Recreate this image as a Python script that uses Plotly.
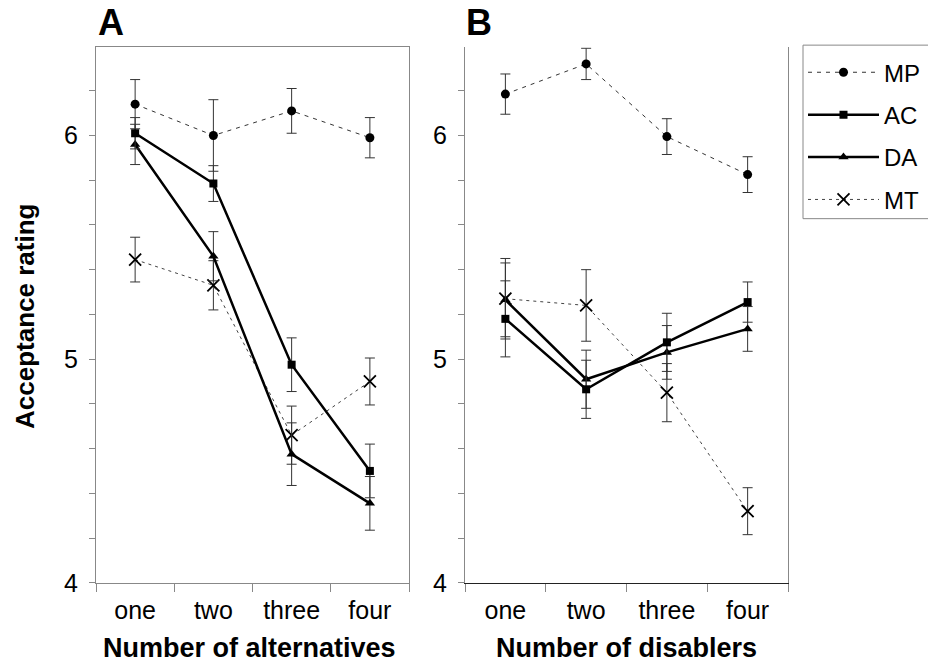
import plotly.graph_objects as go

categories = ["one", "two", "three", "four"]
series_names = ["MP", "AC", "DA", "MT"]

# Panel A: Number of alternatives
a_mp = [6.14, 6.00, 6.11, 5.99]
a_mp_err = [0.11, 0.16, 0.10, 0.09]
a_ac = [6.01, 5.785, 4.975, 4.50]
a_ac_err = [0.07, 0.08, 0.12, 0.12]
a_da = [5.96, 5.46, 4.575, 4.355]
a_da_err = [0.09, 0.11, 0.14, 0.12]
a_mt = [5.445, 5.33, 4.66, 4.90]
a_mt_err = [0.10, 0.11, 0.13, 0.105]

# Panel B: Number of disablers
b_mp = [6.185, 6.32, 5.995, 5.825]
b_mp_err = [0.09, 0.07, 0.08, 0.08]
b_ac = [5.18, 4.865, 5.075, 5.255]
b_ac_err = [0.17, 0.13, 0.13, 0.09]
b_da = [5.265, 4.91, 5.03, 5.135]
b_da_err = [0.165, 0.13, 0.12, 0.10]
b_mt = [5.27, 5.24, 4.85, 4.32]
b_mt_err = [0.18, 0.16, 0.13, 0.105]

y_major = [4, 5, 6]

REF_W, REF_H = 928, 663
W, H = 928, 679
FONT = "Liberation Sans, Arial, sans-serif"

styles = {
    "MP": dict(line=dict(color="#333333", width=1, dash="4px,5px"),
               marker=dict(symbol="circle", size=9, color="black")),
    "AC": dict(line=dict(color="black", width=2.5),
               marker=dict(symbol="square", size=8, color="black")),
    "DA": dict(line=dict(color="black", width=2.5),
               marker=dict(symbol="triangle-up", size=9, color="black")),
    "MT": dict(line=dict(color="#444444", width=1, dash="3px,4px"),
               marker=dict(symbol="x-thin", size=12, color="black",
                           line=dict(color="black", width=1.8))),
}

panels = [
    ("x", "y", {"MP": (a_mp, a_mp_err), "AC": (a_ac, a_ac_err),
                "DA": (a_da, a_da_err), "MT": (a_mt, a_mt_err)}, True),
    ("x2", "y2", {"MP": (b_mp, b_mp_err), "AC": (b_ac, b_ac_err),
                  "DA": (b_da, b_da_err), "MT": (b_mt, b_mt_err)}, False),
]

draw_order = ["MP", "MT", "DA", "AC"]
fig = go.Figure()
for xa, ya, data, show in panels:
    for name in draw_order:
        vals, errs = data[name]
        fig.add_trace(go.Scatter(
            x=categories, y=vals, name=name, mode="lines+markers",
            xaxis=xa, yaxis=ya, showlegend=show, legendgroup=name,
            legendrank=series_names.index(name) + 1,
            error_y=dict(type="data", array=errs, visible=True,
                         color="#333333", thickness=1, width=5),
            **styles[name]))


def px_x(p):
    return p / REF_W


def px_y(p):
    return 1 - p / REF_H


ydom = [px_y(581), px_y(47)]
yrange = [4, 6.395]
GRAY = "#888888"

common_x = dict(type="category", categoryorder="array", categoryarray=categories,
                range=[-0.5, 3.5], tickson="boundaries", ticks="outside",
                ticklen=8, tickcolor=GRAY, showline=True, linecolor=GRAY,
                showgrid=False, zeroline=False, ticklabelstandoff=5,
                tickfont=dict(family=FONT, size=25, color="black"))
common_y = dict(range=yrange, tickvals=y_major, ticks="outside", ticklen=6,
                tickcolor=GRAY, showline=True, linecolor=GRAY,
                showgrid=False, zeroline=False, ticklabelstandoff=6,
                minor=dict(dtick=0.2, tick0=4, ticks="outside", ticklen=6,
                           tickcolor=GRAY, showgrid=False),
                tickfont=dict(family=FONT, size=25, color="black"))

fig.update_layout(
    width=W, height=H,
    margin=dict(l=0, r=0, t=0, b=0),
    paper_bgcolor="white", plot_bgcolor="white",
    font=dict(family=FONT, color="black"),
    xaxis=dict(common_x, domain=[px_x(96), px_x(409)], anchor="y", mirror=True),
    yaxis=dict(common_y, domain=ydom, anchor="x", mirror=True),
    xaxis2=dict(common_x, domain=[px_x(465), px_x(788)], anchor="y2",
                linecolor="#222222"),
    yaxis2=dict(common_y, domain=ydom, anchor="x2", mirror=True),
    legend=dict(x=px_x(803), y=px_y(50), xanchor="left", yanchor="top",
                borderwidth=0, bgcolor="rgba(0,0,0,0)",
                font=dict(family=FONT, size=24, color="black"),
                itemwidth=71, tracegroupgap=8.2, traceorder="grouped"),
    shapes=[
        dict(type="rect", xref="paper", yref="paper",
             x0=px_x(803), x1=px_x(940), y0=px_y(218), y1=px_y(45),
             line=dict(color=GRAY, width=1), fillcolor="rgba(0,0,0,0)",
             layer="below"),
    ],
    annotations=[
        dict(text="<b>A</b>", x=px_x(96), y=1, xref="paper", yref="paper",
             xanchor="left", yanchor="top", showarrow=False,
             font=dict(family=FONT, size=36, color="black")),
        dict(text="<b>B</b>", x=px_x(464), y=1, xref="paper", yref="paper",
             xanchor="left", yanchor="top", showarrow=False,
             font=dict(family=FONT, size=36, color="black")),
        dict(text="<b>Number of alternatives</b>", x=px_x(249), y=0,
             xref="paper", yref="paper", xanchor="center", yanchor="bottom",
             showarrow=False, font=dict(family=FONT, size=27, color="black")),
        dict(text="<b>Number of disablers</b>", x=px_x(626), y=0,
             xref="paper", yref="paper", xanchor="center", yanchor="bottom",
             showarrow=False, font=dict(family=FONT, size=27, color="black")),
        dict(text="<b>Acceptance rating</b>", x=px_x(25), y=px_y(316),
             xref="paper", yref="paper", xanchor="center", yanchor="middle",
             textangle=-90, showarrow=False,
             font=dict(family=FONT, size=26, color="black")),
    ],
)

fig.write_html(
    "out.html",
    config={"displayModeBar": False},
    post_script="document.body.style.margin='0';document.body.style.overflow='hidden';",
)
